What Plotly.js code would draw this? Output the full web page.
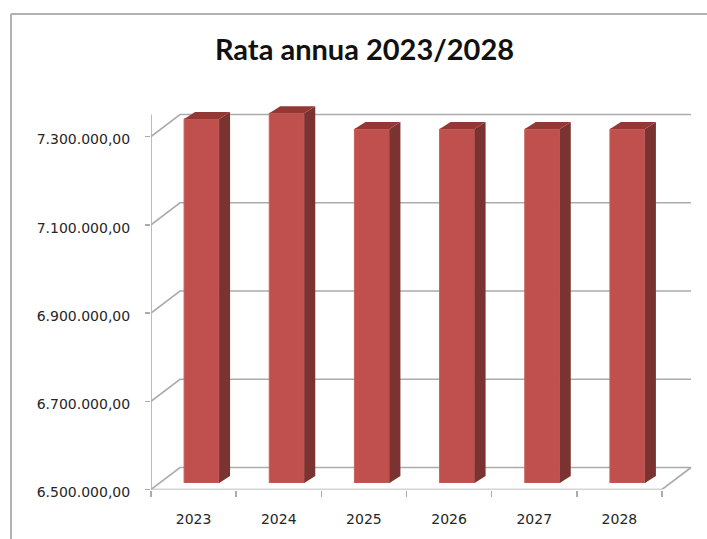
<!DOCTYPE html>
<html><head><meta charset="utf-8">
<script src="https://cdn.plot.ly/plotly-3.0.1.min.js"></script>
<style>html,body{margin:0;padding:0;background:#fff}</style></head>
<body><div id="c" style="width:707px;height:539px"></div>
<script>
const years = [2023, 2024, 2025, 2026, 2027, 2028];
const values = [7325000, 7338000, 7302000, 7302000, 7302000, 7302000];
const yTicks = [6500000, 6700000, 6900000, 7100000, 7300000];
const yLabels = ['6.500.000,00', '6.700.000,00', '6.900.000,00', '7.100.000,00', '7.300.000,00'];
const xBounds = [2022.5, 2023.5, 2024.5, 2025.5, 2026.5, 2027.5, 2028.5];

const W = 707, H = 539;
const GREY = '#ababab';
const pxX = 511 / 6, pxY = 441.25 / 1e6;          // pixels per unit on each axis
const xLo = 2022.5, xHi = 2028.5, yLo = 6500000, yTop = 7350000;
const gridDx = 29 / pxX, gridDy = 22 / pxY;        // wall depth in data units
const barDx = 11 / pxX, barDy = 7 / pxY;           // bar depth in data units
const barW = 35 / pxX;
const plotTop = 60;                                // top of the (invisible) plotting box

const lineT = (x, y) => ({type: 'scatter', mode: 'lines', hoverinfo: 'skip', showlegend: false,
  x, y, line: {color: GREY, width: 1.6}});

const traces = [];
yTicks.forEach(v => traces.push(lineT([xLo, xLo + gridDx, xHi + gridDx], [v, v + gridDy, v + gridDy])));
traces.push(lineT([xHi, xHi + gridDx], [yLo, yLo + gridDy]));   // floor right edge
traces.push(lineT([xLo, xHi], [yLo, yLo]));                     // front floor edge
traces.push(lineT([xLo, xLo], [yLo, yTop]));                    // value axis line

// front faces
traces.push({type: 'bar', x: years, y: values.map(v => v - yLo), base: yLo, width: barW,
  xaxis: 'x2', yaxis: 'y2', showlegend: false,
  marker: {color: '#c0504d', line: {color: '#c65f5c', width: 1}}});
// side and top faces
years.forEach((yr, i) => {
  const l = yr - barW / 2, r = yr + barW / 2, v = values[i];
  traces.push({type: 'scatter', mode: 'lines', fill: 'toself', fillcolor: '#7b3331', hoverinfo: 'skip',
    showlegend: false, xaxis: 'x2', yaxis: 'y2', line: {width: 0, color: '#7b3331'},
    x: [r, r + barDx, r + barDx, r, r], y: [yLo, yLo + barDy, v + barDy, v, yLo]});
  traces.push({type: 'scatter', mode: 'lines', fill: 'toself', fillcolor: '#943835', hoverinfo: 'skip',
    showlegend: false, xaxis: 'x2', yaxis: 'y2', line: {width: 0, color: '#943835'},
    x: [l, l + barDx, r + barDx, r, l], y: [v, v + barDy, v + barDy, v, v]});
});

const tickFont = {family: 'DejaVu Sans, sans-serif', size: 14, color: '#262626'};
const layout = {
  width: W, height: H, autosize: false, showlegend: false, bargap: 0,
  margin: {l: 0, r: 0, t: 0, b: 0},
  paper_bgcolor: '#fff', plot_bgcolor: 'rgba(0,0,0,0)',
  title: {text: '<b>Rata annua 2023/2028</b>', x: 364.5 / W, xanchor: 'center', y: 1 - 50 / H, yanchor: 'middle',
    font: {family: 'Lato, sans-serif', size: 29, color: '#111'}},
  xaxis: {domain: [151 / W, 1], range: [xLo, xLo + (W - 151) / pxX], type: 'linear', tickmode: 'array', tickvals: years,
    ticktext: years.map(String), ticks: '', tickfont: tickFont, showgrid: false, zeroline: false, showline: false,
    ticklabelstandoff: 19,
    minor: {tickmode: 'array', tickvals: xBounds, ticks: 'outside', ticklen: 6, tickcolor: GREY, tickwidth: 1.5, showgrid: false}},
  yaxis: {domain: [(H - 489.5) / H, (H - plotTop) / H], range: [yLo, yLo + (489.5 - plotTop) / pxY], type: 'linear',
    tickmode: 'array', tickvals: yTicks, ticktext: yLabels, ticks: 'outside', ticklen: 5, tickcolor: GREY, tickwidth: 1.5,
    tickfont: tickFont, ticklabelstandoff: 12, ticklabelshift: 3, showgrid: false, zeroline: false, showline: false},
  xaxis2: {domain: [159 / W, 1], range: [xLo, xLo + (W - 159) / pxX], anchor: 'y2', visible: false},
  yaxis2: {domain: [(H - 483) / H, (H - plotTop) / H], range: [yLo, yLo + (483 - plotTop) / pxY], anchor: 'x2', visible: false},
  shapes: [
    {type: 'line', xref: 'paper', yref: 'paper', x0: 11 / W, x1: 1, y0: 1 - 14 / H, y1: 1 - 14 / H, line: {color: '#b2b2b2', width: 2}},
    {type: 'line', xref: 'paper', yref: 'paper', x0: 11 / W, x1: 11 / W, y0: 0, y1: 1 - 14 / H, line: {color: '#b2b2b2', width: 2}}
  ]
};
Plotly.newPlot('c', traces, layout, {displayModeBar: false, staticPlot: true});
</script></body></html>
